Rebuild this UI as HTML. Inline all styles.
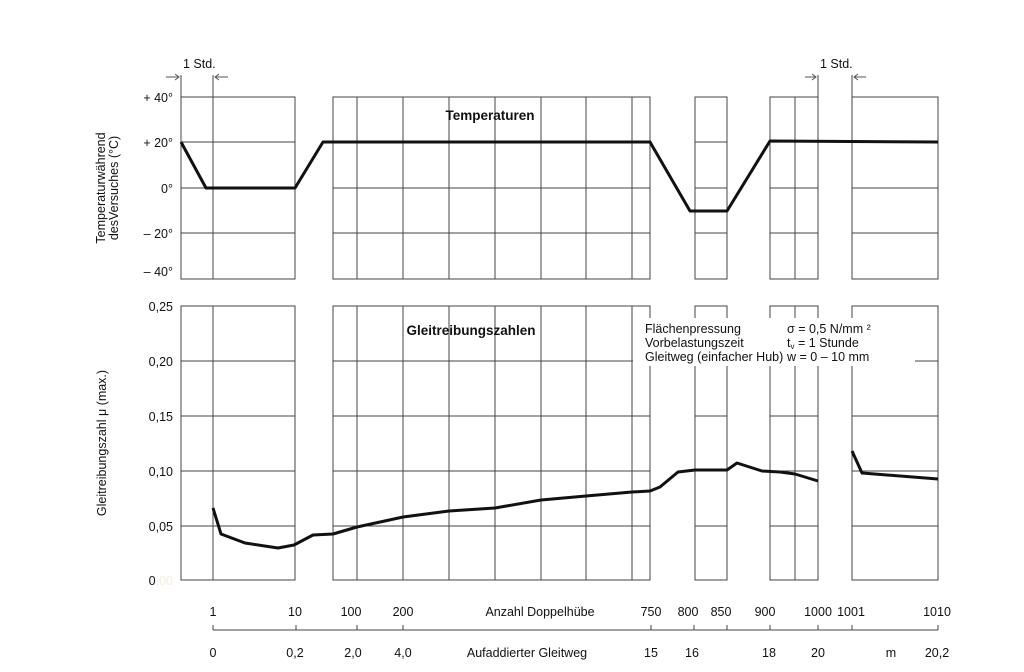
<!DOCTYPE html>
<html><head><meta charset="utf-8"><style>
body{margin:0;background:#fff}
svg{display:block;font-family:"Liberation Sans",sans-serif;font-size:12.5px;fill:#111}
</style></head><body>
<svg width="1024" height="672" viewBox="0 0 1024 672" xmlns="http://www.w3.org/2000/svg">
<g stroke="#444" stroke-width="1" fill="none" shape-rendering="crispEdges">
<rect x="181" y="97" width="114" height="182"/>
<rect x="333" y="97" width="317" height="182"/>
<rect x="695" y="97" width="32" height="182"/>
<rect x="770" y="97" width="48" height="182"/>
<rect x="852" y="97" width="86" height="182"/>
<rect x="181" y="306" width="114" height="274"/>
<rect x="333" y="306" width="317" height="274"/>
<rect x="695" y="306" width="32" height="274"/>
<rect x="770" y="306" width="48" height="274"/>
<rect x="852" y="306" width="86" height="274"/>
<path d="M213 75V279 M213 306V580 M181 75V97 M818 75V97 M852 75V97"/>
<path d="M357 97V279 M403 97V279 M449 97V279 M495 97V279 M541 97V279 M586 97V279 M632 97V279 M795 97V279"/>
<path d="M357 306V580 M403 306V580 M449 306V580 M495 306V580 M541 306V580 M586 306V580 M632 306V580 M795 306V580"/>
<path d="M181 142H295 M333 142H650 M695 142H727 M770 142H818 M852 142H938"/>
<path d="M181 188H295 M333 188H650 M695 188H727 M770 188H818 M852 188H938"/>
<path d="M181 233H295 M333 233H650 M695 233H727 M770 233H818 M852 233H938"/>
<path d="M181 361H295 M333 361H633"/>
<path d="M181 416H295 M333 416H650 M695 416H727 M770 416H818 M852 416H938"/>
<path d="M181 471H295 M333 471H650 M695 471H727 M770 471H818 M852 471H938"/>
<path d="M181 526H295 M333 526H650 M695 526H727 M770 526H818 M852 526H938"/>
<path d="M213 630H938 M213 625V630 M296 625V630 M357 625V630 M403 625V630 M651 625V630 M694 625V630 M727 625V630 M770 625V630 M818 625V630 M852 625V630 M938 625V630"/>
</g>
<rect x="641" y="318" width="294" height="48" fill="#fff"/>
<path d="M650 306V318 M695 306V318 M727 306V318 M770 306V318 M795 306V318 M818 306V318 M852 306V318 M938 306V580 M650 366V580 M695 366V580 M727 366V580 M770 366V580 M795 366V580 M818 366V580 M852 366V580 M915 361H938" stroke="#444" fill="none" shape-rendering="crispEdges"/>
<g stroke="#555" fill="none">
<path d="M166 77H179 M175 74L179 77L175 80"/>
<path d="M228 77H215 M219 74L215 77L219 80"/>
<path d="M805 77H816 M812 74L816 77L812 80"/>
<path d="M866 77H854 M858 74L854 77L858 80"/>
</g>
<text x="183" y="68">1 Std.</text>
<text x="820" y="68">1 Std.</text>
<g stroke="#111" stroke-width="3" fill="none" stroke-linejoin="round">
<polyline points="181,142 206,188 295,188 323,142 650,142 690,211 727,211 770,141 938,142"/>
<polyline points="213,508 221,534 245,543 278,548 294,545 313,535 333,534 357,527 403,517 449,511 495,508 541,500 586,496 632,492 650,491 660,487 678,472 695,470 727,470 737,463 762,471 780,472 795,474 818,481"/>
<polyline points="852,451 862,473 938,479"/>
</g>
<text x="490" y="120" text-anchor="middle" font-weight="bold" font-size="13.5">Temperaturen</text>
<text x="471" y="335" text-anchor="middle" font-weight="bold" font-size="13.5">Gleitreibungszahlen</text>
<text x="645" y="333">Flächenpressung</text>
<text x="645" y="347">Vorbelastungszeit</text>
<text x="645" y="361">Gleitweg (einfacher Hub)</text>
<text x="787" y="333">σ = 0,5 N/mm ²</text>
<text x="787" y="347">t<tspan font-size="8" dy="2">v</tspan><tspan dy="-2"> = 1 Stunde</tspan></text>
<text x="787" y="361">w = 0 – 10 mm</text>
<g text-anchor="end">
<text x="173" y="102">+ 40°</text>
<text x="173" y="147">+ 20°</text>
<text x="173" y="193">0°</text>
<text x="173" y="238">– 20°</text>
<text x="173" y="276">– 40°</text>
<text x="173" y="311">0,25</text>
<text x="173" y="366">0,20</text>
<text x="173" y="421">0,15</text>
<text x="173" y="476">0,10</text>
<text x="173" y="531">0,05</text>
<text x="173" y="585">0<tspan fill="#f4f0d8">,00</tspan></text>
</g>
<text transform="translate(105,188) rotate(-90)" text-anchor="middle">Temperaturwährend</text>
<text transform="translate(118,188) rotate(-90)" text-anchor="middle">desVersuches (°C)</text>
<text transform="translate(106,443) rotate(-90)" text-anchor="middle">Gleitreibungszahl μ (max.)</text>
<g text-anchor="middle">
<text x="213" y="616">1</text><text x="295" y="616">10</text><text x="351" y="616">100</text><text x="403" y="616">200</text>
<text x="540" y="616">Anzahl Doppelhübe</text>
<text x="651" y="616">750</text><text x="688" y="616">800</text><text x="721" y="616">850</text><text x="765" y="616">900</text>
<text x="818" y="616">1000</text><text x="851" y="616">1001</text><text x="937" y="616">1010</text>
<text x="213" y="657">0</text><text x="295" y="657">0,2</text><text x="353" y="657">2,0</text><text x="403" y="657">4,0</text>
<text x="527" y="657">Aufaddierter Gleitweg</text>
<text x="651" y="657">15</text><text x="692" y="657">16</text><text x="769" y="657">18</text><text x="818" y="657">20</text>
<text x="891" y="657">m</text><text x="937" y="657">20,2</text>
</g>
</svg>
</body></html>
